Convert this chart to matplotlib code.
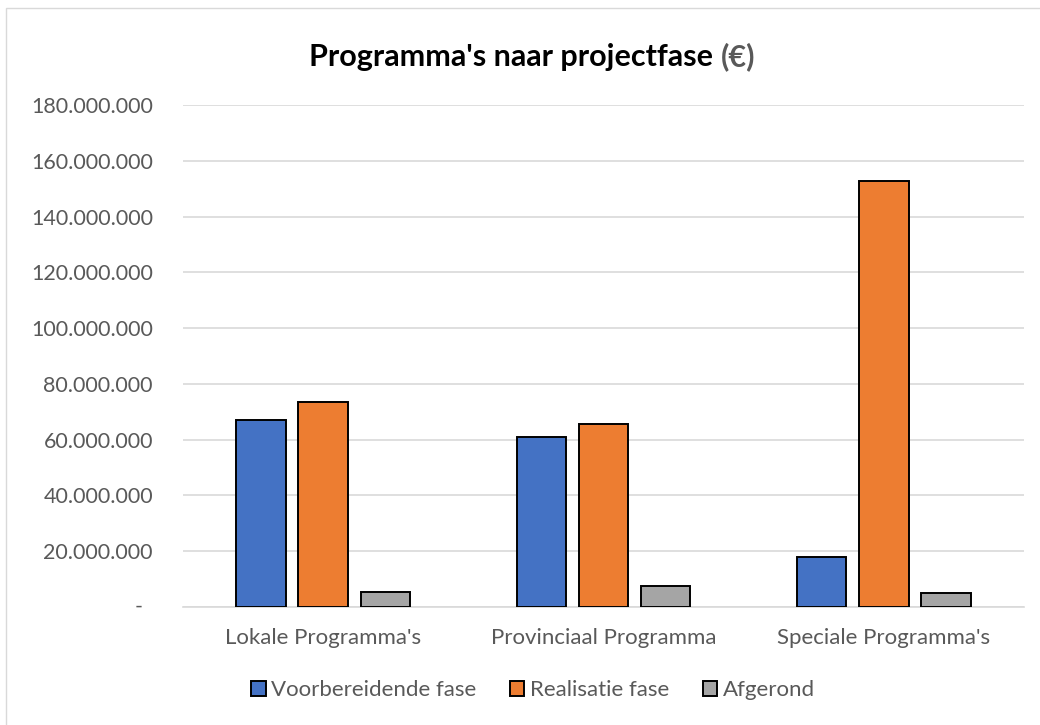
import matplotlib
matplotlib.use("Agg")
import matplotlib.pyplot as plt
import numpy as np
from matplotlib.patches import Rectangle
from matplotlib.ticker import FuncFormatter

categories = ["Lokale Programma's", "Provinciaal Programma", "Speciale Programma's"]
series_names = ["Voorbereidende fase", "Realisatie fase", "Afgerond"]
voorbereidende = [67_000_000, 60_800_000, 18_000_000]
realisatie = [73_500_000, 65_600_000, 152_900_000]
afgerond = [5_300_000, 7_700_000, 4_900_000]
y_ticks = [0, 20_000_000, 40_000_000, 60_000_000, 80_000_000, 100_000_000,
           120_000_000, 140_000_000, 160_000_000, 180_000_000]

colors = ["#4472C4", "#ED7D31", "#A5A5A5"]
text_gray = "#595959"
font = "Lato"
W, H = 1040, 725
ysize = 15.5

fig = plt.figure(figsize=(W / 100, H / 100), dpi=100)
fig.patches.append(Rectangle((6/W, -0.1), 1.1, 1.1 - 8/H, transform=fig.transFigure,
                             fill=False, edgecolor="#D9D9D9", lw=1.0, zorder=0))
ax = fig.add_axes([183/W, 1 - 607/H, (1024-183)/W, (607-105)/H])

x = np.arange(len(categories))
width = 0.176
step = 0.222
for i, (vals, name) in enumerate(zip([voorbereidende, realisatie, afgerond], series_names)):
    ax.bar(x + (i - 1) * step, vals, width, color=colors[i], edgecolor="black",
           linewidth=1.4, label=name, zorder=3)

ax.set_xlim(-0.5, len(categories) - 0.5)
ax.set_ylim(0, 180_000_000)
ax.set_yticks(y_ticks)

def fmt(v, pos):
    if v == 0:
        return ""
    return f"{int(v):,}".replace(",", ".")

ax.yaxis.set_major_formatter(FuncFormatter(fmt))
ax.set_xticks(x)
ax.set_xticklabels(categories)
ax.grid(axis="y", color="#D9D9D9", lw=1.2, zorder=0)
for s in ["top", "right", "left"]:
    ax.spines[s].set_visible(False)
ax.spines["bottom"].set_color("#D9D9D9")
ax.spines["bottom"].set_linewidth(1.2)
ax.tick_params(axis="both", length=0, labelcolor=text_gray)
ax.tick_params(axis="y", labelsize=ysize, pad=20)
ax.tick_params(axis="x", labelsize=16, pad=15)
for lbl in ax.get_xticklabels() + ax.get_yticklabels():
    lbl.set_fontfamily(font)

# zero label shown as a dash (accounting format)
ax.annotate("-", xy=(0, 0), xycoords=("axes fraction", "data"),
            xytext=(-(183 - 143) * 0.72, 0), textcoords="offset points",
            ha="right", va="center", color=text_gray, fontsize=ysize, family=font)

fig.canvas.draw()
r = fig.canvas.get_renderer()
# adjust y label pad so right edge of labels sits at x=153 px
bb = ax.get_yticklabels()[-1].get_window_extent(r)
ax.tick_params(axis="y", pad=20 + (bb.x1 - 153) * 0.72)

ty = 1 - 57/H
t1 = fig.text(0, ty, "Programma's naar projectfase ", ha="left", va="center",
              fontsize=22, fontweight="bold", color="black", family=font)
t2 = fig.text(0, ty, "(€)", ha="left", va="center",
              fontsize=22, fontweight="bold", color=text_gray, family=font)
fig.canvas.draw()
bb1 = t1.get_window_extent(r)
bb2 = t2.get_window_extent(r)
left = 532 - (bb1.width + bb2.width) / 2
t1.set_position((left / W, ty))
t2.set_position(((left + bb1.width) / W, ty))

leg = fig.legend(loc="center", bbox_to_anchor=(533/W, 1 - 690/H), ncol=3,
                 frameon=False, handlelength=0.65, handleheight=0.65, handletextpad=0.25,
                 columnspacing=1.5, prop={"family": font, "size": 16})
for t in leg.get_texts():
    t.set_color(text_gray)
for h in leg.legend_handles:
    h.set_linewidth(1.4)

fig.savefig("out.png", dpi=100, facecolor="white")
